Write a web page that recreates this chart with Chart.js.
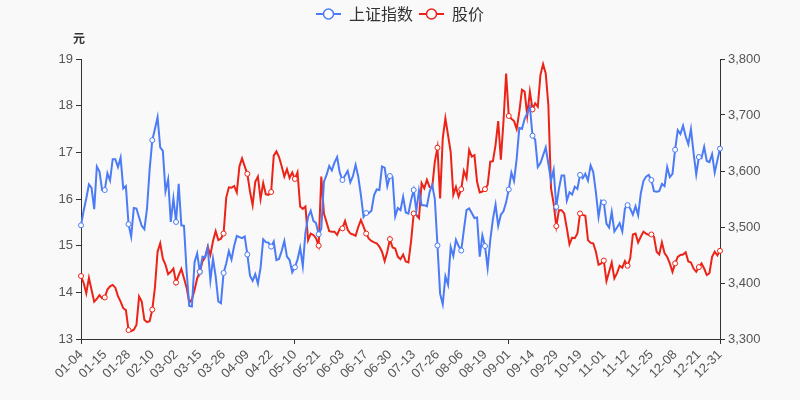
<!DOCTYPE html>
<html>
<head>
<meta charset="utf-8">
<script src="https://cdn.jsdelivr.net/npm/chart.js@4/dist/chart.umd.min.js"></script>
<style>
  html, body { margin: 0; padding: 0; background: #f9f9f9; }
  #wrap { width: 800px; height: 400px; }
</style>
</head>
<body>
<div id="wrap"><canvas id="c"></canvas></div>
<script>
// trading days, 2021
const dates = [
  '01-04','01-05','01-06','01-07','01-08','01-11','01-12','01-13','01-14','01-15','01-18','01-19','01-20','01-21','01-22','01-25','01-26','01-27','01-28','01-29',
  '02-01','02-02','02-03','02-04','02-05','02-08','02-09','02-10','02-18','02-19','02-22','02-23','02-24','02-25','02-26',
  '03-01','03-02','03-03','03-04','03-05','03-08','03-09','03-10','03-11','03-12','03-15','03-16','03-17','03-18','03-19','03-22','03-23','03-24','03-25','03-26','03-29','03-30','03-31',
  '04-01','04-02','04-06','04-07','04-08','04-09','04-12','04-13','04-14','04-15','04-16','04-19','04-20','04-21','04-22','04-23','04-26','04-27','04-28','04-29','04-30',
  '05-06','05-07','05-10','05-11','05-12','05-13','05-14','05-17','05-18','05-19','05-20','05-21','05-24','05-25','05-26','05-27','05-28','05-31',
  '06-01','06-02','06-03','06-04','06-07','06-08','06-09','06-10','06-11','06-15','06-16','06-17','06-18','06-21','06-22','06-23','06-24','06-25','06-28','06-29','06-30',
  '07-01','07-02','07-05','07-06','07-07','07-08','07-09','07-12','07-13','07-14','07-15','07-16','07-19','07-20','07-21','07-22','07-23','07-26','07-27','07-28','07-29','07-30',
  '08-02','08-03','08-04','08-05','08-06','08-09','08-10','08-11','08-12','08-13','08-16','08-17','08-18','08-19','08-20','08-23','08-24','08-25','08-26','08-27','08-30','08-31',
  '09-01','09-02','09-03','09-06','09-07','09-08','09-09','09-10','09-13','09-14','09-15','09-16','09-17','09-22','09-23','09-24','09-27','09-28','09-29','09-30',
  '10-08','10-11','10-12','10-13','10-14','10-15','10-18','10-19','10-20','10-21','10-22','10-25','10-26','10-27','10-28','10-29',
  '11-01','11-02','11-03','11-04','11-05','11-08','11-09','11-10','11-11','11-12','11-15','11-16','11-17','11-18','11-19','11-22','11-23','11-24','11-25','11-26','11-29','11-30',
  '12-01','12-02','12-03','12-06','12-07','12-08','12-09','12-10','12-13','12-14','12-15','12-16','12-17','12-20','12-21','12-22','12-23','12-24','12-27','12-28','12-29','12-30','12-31'
];

// 上证指数 (right axis)
const indexValues = [
  3503,3529,3551,3576,3570,3532,3608,3599,3566,3566,3596,3583,3621,3621,3607,3624,3569,3573,3505,3483,
  3534,3533,3517,3502,3496,3533,3603,3655,3675,3696,3642,3636,3564,3585,3509,
  3551,3509,3577,3503,3502,3421,3359,3358,3437,3453,3420,3447,3446,3463,3405,3443,3412,3367,3364,3418,3435,3457,3442,
  3466,3484,3482,3480,3483,3451,3413,3404,3416,3399,3427,3478,3473,3472,3465,3474,3441,3443,3457,3475,3447,
  3441,3419,3428,3442,3463,3430,3490,3518,3529,3511,3507,3487,3497,3581,3593,3609,3601,3615,
  3625,3597,3584,3592,3600,3580,3591,3611,3590,3557,3518,3525,3525,3529,3557,3567,3566,3608,3606,3573,3591,
  3589,3519,3534,3530,3554,3526,3524,3548,3566,3529,3565,3539,3539,3537,3562,3575,3550,3467,3381,3362,3412,3397,
  3464,3448,3477,3466,3458,3495,3530,3533,3525,3516,3517,3447,3485,3466,3427,3477,3514,3540,3502,3522,3528,3544,
  3567,3597,3582,3622,3677,3675,3693,3703,3715,3663,3656,3607,3614,3628,3642,3613,3583,3602,3536,3568,
  3592,3592,3547,3562,3558,3572,3568,3593,3587,3595,3583,3610,3598,3562,3518,3547,
  3544,3506,3499,3527,3492,3499,3507,3492,3533,3539,3533,3522,3537,3521,3560,3582,3590,3593,3584,3564,3563,3564,
  3577,3573,3607,3589,3595,3638,3673,3666,3681,3662,3648,3675,3632,3594,3625,3623,3643,3618,3616,3630,3597,3619,3640
];

// 股价 (left axis, 元)
const priceValues = [
  14.35,14.2,13.98,14.31,14.05,13.8,13.86,13.94,13.87,13.89,14.06,14.13,14.16,14.1,13.92,13.8,13.66,13.62,13.19,13.17,
  13.2,13.3,13.91,13.8,13.41,13.36,13.38,13.63,14.1,14.87,15.05,14.72,14.59,14.39,14.44,
  14.51,14.21,14.37,14.5,14.3,14.1,13.78,13.85,14.05,14.3,14.44,14.66,14.75,14.98,14.8,15.1,15.31,15.12,15.15,15.26,16.03,16.25,16.24,
  16.28,16.14,16.7,16.87,16.7,16.54,16.16,15.87,16.37,16.48,16.0,16.34,16.1,16.09,16.15,16.93,17.02,16.9,16.7,16.48,16.64,
  16.45,16.57,16.43,16.57,15.84,15.79,15.84,15.12,15.26,15.23,15.16,15.0,16.48,15.69,15.5,15.31,15.3,15.3,
  15.23,15.36,15.37,15.53,15.34,15.26,15.24,15.21,15.4,15.55,15.41,15.26,15.15,15.1,15.07,15.05,14.98,14.87,14.67,14.87,15.14,
  14.96,14.94,14.76,14.71,14.81,14.66,14.64,15.09,15.69,15.66,15.59,16.34,16.23,16.41,16.26,16.24,16.8,17.1,16.01,17.3,17.73,17.37,
  17.01,16.09,16.26,16.05,16.21,16.6,16.45,17.05,16.91,16.94,16.37,16.14,16.16,16.21,16.3,16.8,16.81,17.16,17.67,16.84,17.66,18.69,
  17.78,17.72,17.67,17.5,17.87,18.34,18.3,17.79,18.3,17.92,18.05,17.98,18.66,18.89,18.69,18.01,16.23,15.9,15.42,15.76,
  15.76,15.69,15.37,15.03,15.17,15.16,15.26,15.69,15.66,15.64,15.12,15.06,15.05,14.87,14.59,14.62,
  14.68,14.24,14.44,14.64,14.3,14.41,14.57,14.53,14.67,14.57,14.73,15.24,15.26,15.07,15.19,15.3,15.26,15.23,15.24,15.19,14.87,14.81,
  15.07,14.84,14.76,14.62,14.44,14.62,14.76,14.8,14.81,14.86,14.66,14.64,14.51,14.44,14.54,14.62,14.51,14.37,14.41,14.76,14.87,14.79,14.89
];

const BLUE = '#4b7bf5', RED = '#ec2317';
const last = dates.length - 1;
const marked = i => i % 9 === 0 || i === last;

// legend icon: line with hollow circle
function icon(color){
  const cv = document.createElement('canvas');
  cv.width = 25; cv.height = 14;
  const g = cv.getContext('2d');
  g.strokeStyle = color; g.lineWidth = 2;
  g.beginPath(); g.moveTo(0,7); g.lineTo(25,7); g.stroke();
  g.beginPath(); g.arc(12.5,7,5,0,Math.PI*2);
  g.fillStyle = '#fff'; g.fill(); g.lineWidth = 1.5; g.stroke();
  return cv;
}
const icons = [icon(BLUE), icon(RED)];

const bg = { id:'bg', beforeDraw(chart){ const c=chart.ctx; c.save(); c.fillStyle='#f9f9f9'; c.fillRect(0,0,chart.width,chart.height); c.restore(); } };
const legendHeight = { id:'legendHeight', beforeInit(chart){ const fit = chart.legend.fit; chart.legend.fit = function(){ fit.bind(chart.legend)(); this.height = 59; }; } };
const unitName = { id:'unitName', afterDraw(chart){ const c=chart.ctx; c.save(); c.font='bold 12px "Noto Sans CJK SC"'; c.fillStyle='#333'; c.textAlign='center'; c.textBaseline='middle'; c.fillText('元', 79, 38); c.restore(); } };

const axisFont = { family: '"Liberation Sans", Arial, sans-serif', size: 13 };

new Chart(document.getElementById('c'), {
  type: 'line',
  data: {
    labels: dates,
    datasets: [
      { label:'上证指数', data:indexValues, yAxisID:'y1', borderColor:BLUE, backgroundColor:BLUE, borderWidth:2, tension:0,
        pointRadius: ctx => marked(ctx.index) ? 2.5 : 0, pointBackgroundColor:'#fff', pointBorderColor:BLUE, pointBorderWidth:1 },
      { label:'股价', data:priceValues, yAxisID:'y', borderColor:RED, backgroundColor:RED, borderWidth:2, tension:0,
        pointRadius: ctx => marked(ctx.index) ? 2.5 : 0, pointBackgroundColor:'#fff', pointBorderColor:RED, pointBorderWidth:1 }
    ]
  },
  options: {
    responsive:true, maintainAspectRatio:false, animation:false,
    layout:{ padding:{ top:0, left:0, right:0, bottom:0 } },
    plugins:{
      tooltip:{ enabled:false },
      legend:{ position:'top', labels:{
        usePointStyle:true, pointStyleWidth:25, padding:6, color:'#333',
        font:{ family:'"Noto Sans CJK SC", sans-serif', size:16 },
        generateLabels: chart => chart.data.datasets.map((ds,i)=>({ text:ds.label, fillStyle:ds.borderColor, strokeStyle:ds.borderColor, pointStyle:icons[i], datasetIndex:i, hidden:!chart.isDatasetVisible(i), fontColor:'#333', lineWidth:0 }))
      } }
    },
    scales:{
      x:{
        border:{ display:true, color:'#333' },
        grid:{ drawOnChartArea:false, drawTicks:true, tickLength:5, color: ctx => marked(ctx.index) ? '#333' : 'rgba(0,0,0,0)' },
        ticks:{ autoSkip:false, maxRotation:45, minRotation:45, padding:3, color:'#555', font:axisFont,
          callback:(v,i)=> marked(i) ? dates[i] : null },
        afterFit: s => { s.height = 61; }
      },
      y:{
        position:'left', min:13, max:19,
        border:{ display:true, color:'#333' },
        grid:{ drawOnChartArea:false, drawTicks:true, tickLength:5, color:'#333' },
        ticks:{ stepSize:1, padding:3, color:'#555', font:axisFont },
        afterFit: s => { s.width = 81; }
      },
      y1:{
        position:'right', min:3300, max:3800,
        border:{ display:true, color:'#333' },
        grid:{ drawOnChartArea:false, drawTicks:true, tickLength:5, color:'#333' },
        ticks:{ stepSize:100, padding:3, color:'#555', font:axisFont },
        afterFit: s => { s.width = 80; }
      }
    }
  },
  plugins:[bg, legendHeight, unitName]
});
</script>
</body>
</html>
